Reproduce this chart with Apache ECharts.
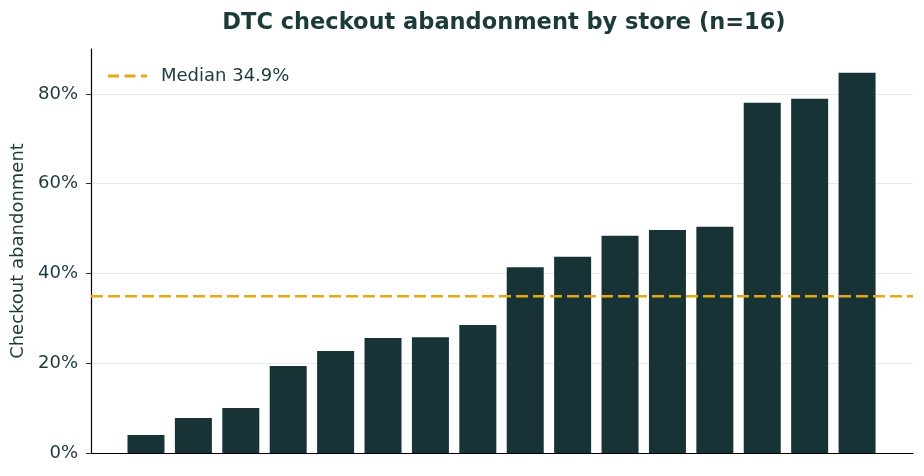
<!DOCTYPE html>
<html>
<head>
<meta charset="utf-8">
<script src="https://cdn.jsdelivr.net/npm/echarts@6/dist/echarts.min.js"></script>
<style>
  html, body { margin: 0; padding: 0; background: #fff; }
  #chart { width: 924px; height: 476px; }
</style>
</head>
<body>
<div id="chart"></div>
<script>
// abandonment rate per store, sorted ascending (%)
var stores = ['S1', 'S2', 'S3', 'S4', 'S5', 'S6', 'S7', 'S8', 'S9', 'S10', 'S11', 'S12', 'S13', 'S14', 'S15', 'S16'];
var rates = [4.0, 7.8, 10.0, 19.4, 22.7, 25.6, 25.8, 28.5, 41.4, 43.7, 48.4, 49.7, 50.4, 78.0, 78.9, 84.7];
var median = 34.9;
var yTicks = [0, 20, 40, 60, 80];

var textCol = '#1d3a3a';
var barCol = '#173335';
var medCol = '#e6a817';
var font = 'DejaVu Sans';

var xMin = -1.16, xMax = 16.18;

var chart = echarts.init(document.getElementById('chart'));

var barData = rates.map(function(v, i) { return [i, v]; });

// dashed legend handle (39 x 3)
var dashIcon = 'path://M0,0h11v3h-11z M16.5,0h11v3h-11z M33,0h6v3h-6z';

var option = {
    backgroundColor: '#fff',
    animation: false,
    title: {
        text: 'DTC checkout abandonment by store (n=16)',
        left: 499,
        textAlign: 'center',
        top: 7,
        textStyle: { fontFamily: font, fontWeight: 'bold', fontSize: 22.5, color: textCol }
    },
    legend: {
        left: 103,
        top: 62,
        itemWidth: 39,
        itemHeight: 3,
        data: [{ name: 'Median 34.9%', icon: dashIcon }],
        textStyle: { fontFamily: font, fontSize: 18, color: textCol, padding: [0, 0, 0, 9] }
    },
    grid: { left: 91, right: 11, top: 49, bottom: 23 },
    xAxis: {
        type: 'value',
        min: xMin,
        max: xMax,
        axisLine: { show: true, onZero: false, lineStyle: { color: '#000', width: 1.2 } },
        axisTick: { show: false },
        axisLabel: { show: false },
        splitLine: { show: false }
    },
    yAxis: {
        type: 'value',
        min: 0,
        max: 90,
        interval: 20,
        name: 'Checkout abandonment',
        nameLocation: 'middle',
        nameGap: 64,
        nameTextStyle: { fontFamily: font, fontSize: 18, color: textCol },
        axisLine: { show: true, onZero: false, lineStyle: { color: '#000', width: 1.2 } },
        axisTick: { show: true, length: 5, lineStyle: { color: textCol } },
        axisLabel: {
            fontFamily: font, fontSize: 18, color: textCol, margin: 13,
            showMaxLabel: false,
            formatter: function(v) { return yTicks.indexOf(v) >= 0 ? v + '%' : ''; }
        },
        splitLine: { show: true, showMaxLine: false, lineStyle: { color: '#e5eceb', width: 1 } }
    },
    series: [{
            name: 'Abandonment',
            type: 'bar',
            data: barData,
            barWidth: 37,
            itemStyle: { color: barCol },
            z: 3
        },
        {
            name: 'Median 34.9%',
            type: 'line',
            data: [[xMin, median], [xMax, median]],
            symbol: 'none',
            lineStyle: { color: medCol, width: 2.5, type: [12, 5] },
            itemStyle: { color: medCol },
            z: 4
        }
    ]
};
chart.setOption(option);
</script>
</body>
</html>
